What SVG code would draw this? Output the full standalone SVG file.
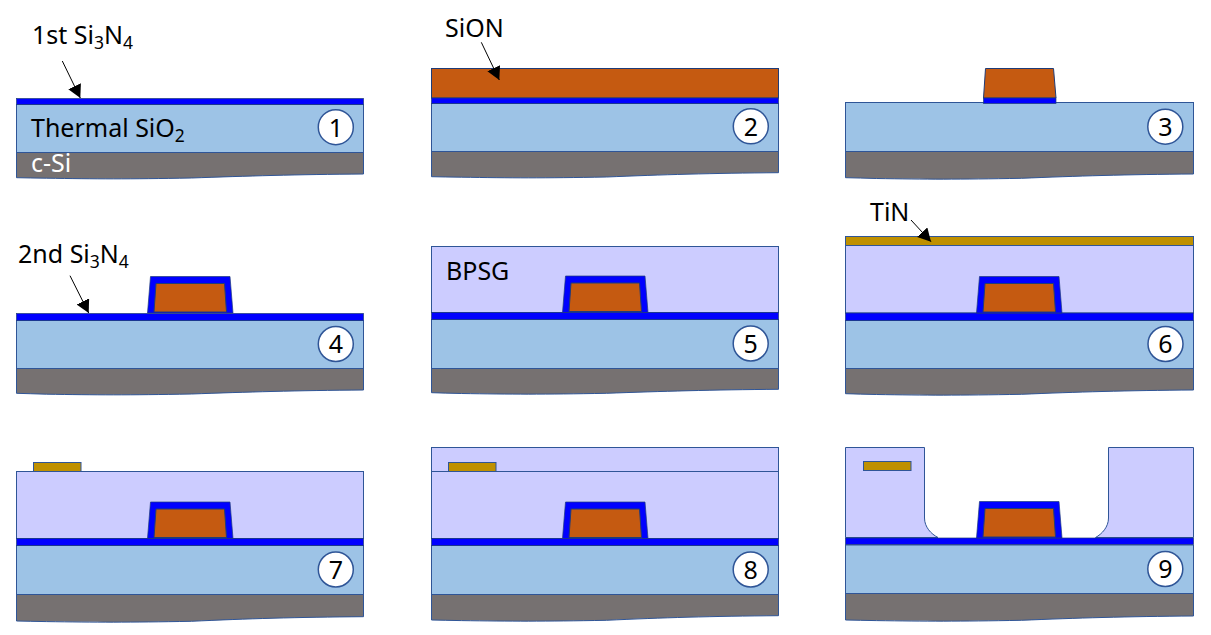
<svg xmlns="http://www.w3.org/2000/svg" width="1211" height="635" viewBox="0 0 1211 635">
<style>
.s{stroke:#2f5597;stroke-width:1}
.si{fill:#767171}.ox{fill:#9dc3e6}.ni{fill:#0000ff;stroke:#1f3c78;stroke-width:.7}.so{fill:#c55a11;stroke:#1f3c78;stroke-width:1}
.bp{fill:#ccccff}.ti{fill:#bf9000}
.n{fill:#fff;stroke:#2f5597;stroke-width:1.5}
text{font-family:"Noto Sans","Open Sans",sans-serif;font-size:25px;fill:#000}
.c{text-anchor:middle;font-size:25px}
.sub{font-size:17.500px}
.a{stroke:#000;stroke-width:1;fill:none}
</style>
<defs>
<marker id="ah" markerUnits="userSpaceOnUse" markerWidth="16" markerHeight="16" refX="13" refY="7" orient="auto"><path d="M0 0L13 7L0 14Z" fill="#000"/></marker>
<g id="bump"><path class="ni" d="M3 0H82.500L85.500 36.500H0Z"/><path class="so" d="M8.500 7H77L79 35.500H6.500Z"/></g>
</defs>
<g id="node-1">
<path class="si s" d="M16.500 152.500H363.500V174C296.500 174.500 246.500 176 191.500 178C126.500 179.200 96.500 179 46.500 178.200Q30 178 16.500 177.700Z"/>
<rect class="ox s" x="16.500" y="104.500" width="347" height="48"/>
<rect class="ni" x="16.500" y="98.500" width="347" height="6"/>
<circle class="n" cx="335.800" cy="127.200" r="17.500"/><text class="c" x="335.800" y="136.500">1</text>
<text x="31" y="137">Thermal SiO<tspan class="sub" dy="5">2</tspan></text>
<text x="31" y="172" style="fill:#fff">c-Si</text>
<text x="32" y="44">1st Si<tspan class="sub" dy="5">3</tspan><tspan dy="-5">N</tspan><tspan class="sub" dy="5">4</tspan></text>
</g>
<g id="node-2">
<path class="si s" d="M431.500 151.500H778.500V172.700C711.500 173.200 661.500 174.700 606.500 177C541.500 178.200 511.500 178 461.500 177.200Q445 177 431.500 176.700Z"/>
<rect class="ox s" x="431.500" y="103.500" width="347" height="48"/>
<rect class="so" x="431.500" y="68.500" width="347" height="29.500"/>
<rect class="ni" x="431.500" y="98" width="347" height="5.500"/>
<circle class="n" cx="750.800" cy="126.300" r="17.500"/><text class="c" x="750.800" y="135.500">2</text>
<text x="445" y="37">SiON</text>
</g>
<g id="node-3">
<path class="si s" d="M845.500 151.500H1193.500V174C1126.500 174.500 1076.500 176 1021.500 178.300C956.500 179.500 926.500 179.300 876.500 178.500Q860 178 845.500 177.700Z"/>
<rect class="ox s" x="845.500" y="102.500" width="348" height="49"/>
<path class="so" d="M985.500 68.500H1053.500L1056 98H983.500Z"/>
<rect class="ni" x="983.500" y="98" width="72.500" height="5.500"/>
<circle class="n" cx="1165.300" cy="126.700" r="17.500"/><text class="c" x="1165.300" y="136">3</text>
</g>
<g id="node-4">
<path class="si s" d="M16.500 368.500H363.500V390C296.500 390.500 246.500 392 191.500 394C126.500 395.200 96.500 395 46.500 394.200Q30 393.700 16.500 393.300Z"/>
<rect class="ox s" x="16.500" y="320.500" width="347" height="48"/>
<rect class="ni" x="16.500" y="313.500" width="347" height="7"/>
<use href="#bump" x="147.500" y="276.500"/>
<circle class="n" cx="335.800" cy="344" r="17.500"/><text class="c" x="335.800" y="353.200">4</text>
<text x="18" y="263">2nd Si<tspan class="sub" dy="5">3</tspan><tspan dy="-5">N</tspan><tspan class="sub" dy="5">4</tspan></text>
</g>
<g id="node-5">
<path class="si s" d="M431.500 368.500H778.500V389.300C711.500 389.800 661.500 391.300 606.500 393.300C541.500 394.500 511.500 394.300 461.500 393.500Q445 393.100 431.500 392.700Z"/>
<rect class="ox s" x="431.500" y="319.500" width="347" height="49"/>
<rect class="bp s" x="431.500" y="246.500" width="347" height="66"/>
<rect class="ni" x="431.500" y="312.500" width="347" height="7"/>
<use href="#bump" x="562.500" y="276"/>
<circle class="n" cx="750.700" cy="343.500" r="17.500"/><text class="c" x="750.700" y="352.500">5</text>
<text x="446" y="279.500">BPSG</text>
</g>
<g id="node-6">
<path class="si s" d="M845.500 368.500H1193.500V390C1126.500 390.500 1076.500 392 1021.500 394.300C956.500 395.500 926.500 395.300 876.500 394.500Q860 394.100 845.500 393.700Z"/>
<rect class="ox s" x="845.500" y="320.500" width="348" height="48"/>
<rect class="bp s" x="845.500" y="245.500" width="348" height="67.500"/>
<rect class="ti s" x="845.500" y="236.500" width="348" height="9"/>
<rect class="ni" x="845.500" y="313" width="348" height="7.500"/>
<use href="#bump" x="976.500" y="276.500"/>
<circle class="n" cx="1165.500" cy="344" r="17.500"/><text class="c" x="1165.500" y="353.200">6</text>
<text x="870" y="221">TiN</text>
</g>
<g id="node-7">
<path class="si s" d="M16.500 594.500H363.500V616.700C296.500 617.200 246.500 618.700 191.500 621.300C126.500 622.500 96.500 622.300 46.500 621.600Q30 621.300 16.500 621Z"/>
<rect class="ox s" x="16.500" y="545.500" width="347" height="49"/>
<rect class="bp s" x="16.500" y="471.500" width="347" height="67"/>
<rect class="ti s" x="33.500" y="462.500" width="47.500" height="9"/>
<rect class="ni" x="16.500" y="538.500" width="347" height="7"/>
<use href="#bump" x="147.500" y="502"/>
<circle class="n" cx="335.800" cy="569.500" r="17.500"/><text class="c" x="335.800" y="578.700">7</text>
</g>
<g id="node-8">
<path class="si s" d="M431.500 594.500H778.500V615.700C711.500 616.200 661.500 617.700 606.500 620.300C541.500 621.500 511.500 621.300 461.500 620.600Q445 620.300 431.500 620Z"/>
<rect class="ox s" x="431.500" y="545.500" width="347" height="49"/>
<rect class="bp s" x="431.500" y="447.500" width="347" height="91"/>
<path class="s" fill="none" d="M431.500 471.500H778.500"/>
<rect class="ti s" x="448.500" y="462.500" width="47.500" height="9"/>
<rect class="ni" x="431.500" y="538.500" width="347" height="7"/>
<use href="#bump" x="562.500" y="502"/>
<circle class="n" cx="750.700" cy="569.500" r="17.500"/><text class="c" x="750.700" y="578.700">8</text>
</g>
<g id="node-9">
<path class="si s" d="M845.500 593.500H1193.500V616C1126.500 616.500 1076.500 618 1021.500 620.300C956.500 621.500 926.500 621.300 876.500 620.600Q860 620.300 845.500 620Z"/>
<rect class="ox s" x="845.500" y="545" width="348" height="48.500"/>
<path class="bp s" d="M845.500 447.500H924.500V518C924.500 527 931 534 938 537.500H845.500Z"/>
<path class="bp s" d="M1193.500 447.500H1108.500V518C1108.500 527 1102 534 1095.500 537.500H1193.500Z"/>
<rect class="ti s" x="863.500" y="461.500" width="47.500" height="9"/>
<rect class="ni" x="845.500" y="538" width="348" height="6.500"/>
<use href="#bump" x="976.500" y="501.500"/>
<circle class="n" cx="1165.300" cy="569" r="17.500"/><text class="c" x="1165.300" y="578.200">9</text>
</g>
<g id="connectors">
<path class="a" marker-end="url(#ah)" d="M62.300 61L80.300 98"/>
<path class="a" marker-end="url(#ah)" d="M481.300 42.300L499.300 80"/>
<path class="a" marker-end="url(#ah)" d="M70 275.700L88.700 313"/>
<path class="a" marker-end="url(#ah)" d="M911 220L931 241.700"/>
</g>
</svg>
